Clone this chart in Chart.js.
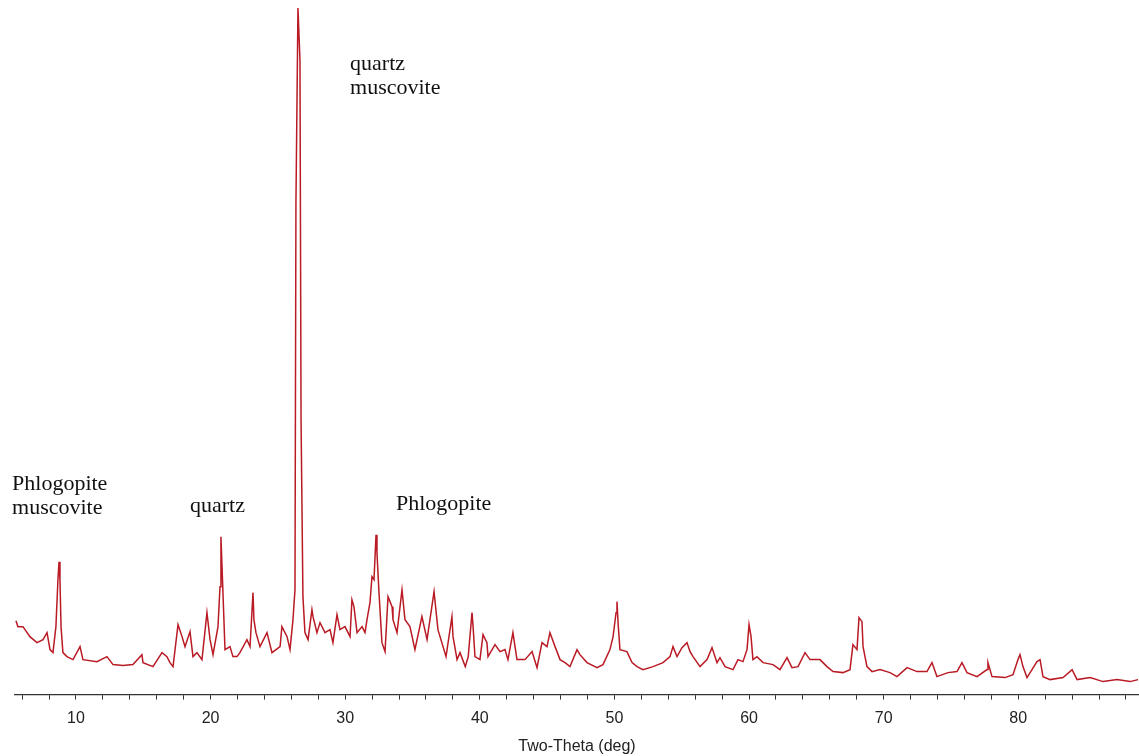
<!DOCTYPE html>
<html>
<head>
<meta charset="utf-8">
<title>XRD pattern</title>
<script src="https://cdn.jsdelivr.net/npm/chart.js@4.4.1/dist/chart.umd.min.js"></script>
<style>
  html, body { margin:0; padding:0; background:#fff; }
  #wrap { width:1139px; height:756px; }
</style>
</head>
<body>
<div id="wrap"><canvas id="xrd"></canvas></div>
<script>
// --- diffraction pattern ---
// two-theta in degrees, intensity in arbitrary units
const twoTheta = [
  5.54, 5.69, 6.06, 6.58, 7.10, 7.55, 7.85, 8.07, 8.29, 8.51, 8.66, 8.74, 8.81, 8.89, 9.03, 9.33, 9.78,
  10.30, 10.52, 11.56, 12.30, 12.75, 13.49, 14.23, 14.90, 14.98, 15.72, 16.39, 16.76, 16.98, 17.21,
  17.58, 17.88, 18.10, 18.47, 18.69, 18.99, 19.36, 19.73, 19.96, 20.18, 20.55, 20.70, 20.77, 20.85,
  21.07, 21.44, 21.66, 21.96, 22.18, 22.70, 22.93, 23.15, 23.22, 23.37, 23.67, 24.19, 24.56, 25.16,
  25.30, 25.68, 25.90, 26.12, 26.27, 26.34, 26.49, 26.64, 26.72, 26.86, 27.01, 27.24, 27.53, 27.61,
  27.90, 28.13, 28.50, 28.87, 29.09, 29.39, 29.61, 29.98, 30.36, 30.50, 30.65, 30.88, 31.25, 31.47,
  31.62, 31.84, 31.99, 32.14, 32.29, 32.36, 32.51, 32.73, 32.96, 33.18, 33.48, 33.55, 33.85, 34.22,
  34.44, 34.81, 35.18, 35.70, 36.08, 36.60, 36.89, 37.49, 37.93, 38.01, 38.31, 38.53, 38.92, 39.14,
  39.42, 39.50, 39.64, 40.01, 40.24, 40.53, 40.61, 41.13, 41.50, 41.87, 42.09, 42.46, 42.76, 43.36,
  43.88, 44.25, 44.62, 44.99, 45.21, 45.59, 45.96, 46.33, 46.70, 47.22, 47.44, 47.96, 48.71, 49.15,
  49.67, 49.90, 50.12, 50.19, 50.27, 50.41, 50.93, 51.31, 51.68, 52.12, 52.87, 53.61, 54.13, 54.35,
  54.65, 55.02, 55.39, 55.62, 55.84, 56.36, 56.88, 57.25, 57.62, 57.84, 58.22, 58.81, 59.18, 59.55,
  59.85, 60.00, 60.15, 60.29, 60.59, 61.04, 61.78, 62.30, 62.82, 63.19, 63.64, 64.16, 64.53, 65.27,
  65.79, 66.24, 66.98, 67.50, 67.72, 68.02, 68.17, 68.39, 68.47, 68.76, 69.14, 69.73, 70.47, 70.99,
  71.74, 72.48, 73.22, 73.59, 73.96, 74.78, 75.45, 75.82, 76.19, 76.94, 77.68, 77.75, 78.05, 79.02,
  79.61, 79.98, 80.13, 80.35, 80.65, 81.02, 81.39, 81.62, 81.84, 82.36, 83.33, 84.00, 84.37, 85.34,
  86.30, 87.34, 88.31, 88.90
];
const intensity = [
  74, 68, 68, 58, 52, 55, 62, 45, 42, 68, 115, 133, 115, 68, 42, 38, 35,
  48, 35, 33, 38, 30, 29, 30, 40, 32, 28, 42, 38, 32, 28,
  70, 58, 48, 63, 38, 42, 35, 82, 55, 40, 68, 108, 158, 128,
  45, 48, 38, 38, 42, 55, 48, 102, 75, 62, 48, 62, 42, 48,
  68, 58, 45, 75, 105, 490, 687, 635, 275, 98, 62, 55, 85, 78,
  62, 72, 62, 65, 52, 80, 65, 68, 58, 95, 88, 62, 68, 62,
  75, 92, 118, 115, 160, 142, 102, 52, 43, 98, 88, 75, 62, 105,
  75, 68, 45, 78, 55, 103, 65, 38, 78, 58, 35, 42, 28, 38,
  82, 68, 38, 35, 60, 52, 38, 50, 43, 45, 35, 62, 35, 35,
  43, 27, 52, 48, 62, 48, 35, 32, 28, 45, 40, 32, 27, 30,
  45, 58, 82, 93, 72, 45, 43, 32, 28, 25, 28, 32, 38, 48,
  38, 47, 52, 43, 38, 28, 35, 47, 32, 37, 28, 25, 35, 33,
  45, 70, 58, 35, 38, 32, 30, 25, 37, 27, 28, 42, 35, 35,
  28, 23, 22, 25, 50, 45, 77, 73, 48, 28, 23, 25, 22, 18,
  27, 23, 23, 32, 18, 22, 23, 32, 22, 18, 25, 32, 18, 17,
  20, 35, 40, 28, 17, 25, 33, 35, 18, 15, 17, 25, 15, 17,
  13, 15, 13, 15
];

// axis
const xMin = 5.47, xMax = 88.97;
const yMax = 695;
const minorStep = 2;
const tickLabels = [10, 20, 30, 40, 50, 60, 70, 80];

// phase labels: [two-theta, intensity at first baseline, lines]
const phaseNotes = [
  [5.25, 205, ['Phlogopite', 'muscovite']],
  [18.47, 183, ['quartz']],
  [30.36, 625, ['quartz', 'muscovite']],
  [33.77, 185, ['Phlogopite']]
];

const points = twoTheta.map((t, i) => ({ x: t, y: intensity[i] }));

// writes the phase names onto the canvas
const notesPlugin = {
    id: 'notes',
    afterDatasetsDraw(chart) {
        const { ctx, scales } = chart;
        ctx.save();
        ctx.font = '22px "Liberation Serif", "Times New Roman", serif';
        ctx.fillStyle = '#111';
        ctx.textAlign = 'left';
        ctx.textBaseline = 'alphabetic';
        phaseNotes.forEach(([t, v, lines]) => {
            const x = scales.x.getPixelForValue(t);
            const y = scales.y.getPixelForValue(v);
            lines.forEach((txt, k) => ctx.fillText(txt, x, y + k * 24));
        });
        ctx.restore();
    }
};

new Chart(document.getElementById('xrd'), {
    type: 'line',
    data: {
        datasets: [{
            data: points,
            borderColor: 'rgb(185,26,36)',
            borderWidth: 1.5,
            pointRadius: 0,
            tension: 0,
            fill: false
        }]
    },
    options: {
        responsive: true,
        maintainAspectRatio: false,
        animation: false,
        layout: { padding: { left: 15, right: 0, top: 0, bottom: 0 } },
        plugins: { legend: { display: false }, tooltip: { enabled: false } },
        scales: {
            x: {
                type: 'linear',
                min: xMin,
                max: xMax,
                afterBuildTicks: (s) => {
                    const ticks = [];
                    for (let v = Math.ceil(xMin / minorStep) * minorStep; v <= xMax; v += minorStep) ticks.push({ value: v });
                    s.ticks = ticks;
                },
                ticks: {
                    autoSkip: false,
                    maxRotation: 0,
                    padding: 9,
                    color: '#222',
                    font: { family: '"Liberation Sans", Arial, sans-serif', size: 16 },
                    callback: (v) => tickLabels.includes(v) ? String(v) : ''
                },
                grid: { drawOnChartArea: false, drawTicks: true, tickLength: 5, color: '#333', lineWidth: 1 },
                border: { display: true, color: '#333', width: 1.2 },
                title: {
                    display: true,
                    text: 'Two-Theta (deg)',
                    color: '#222',
                    padding: { top: 0, bottom: 0 },
                    font: { family: '"Liberation Sans", Arial, sans-serif', size: 16 }
                }
            },
            y: {
                display: false,
                min: 0,
                max: yMax
            }
        }
    },
    plugins: [notesPlugin]
});
</script>
</body>
</html>
